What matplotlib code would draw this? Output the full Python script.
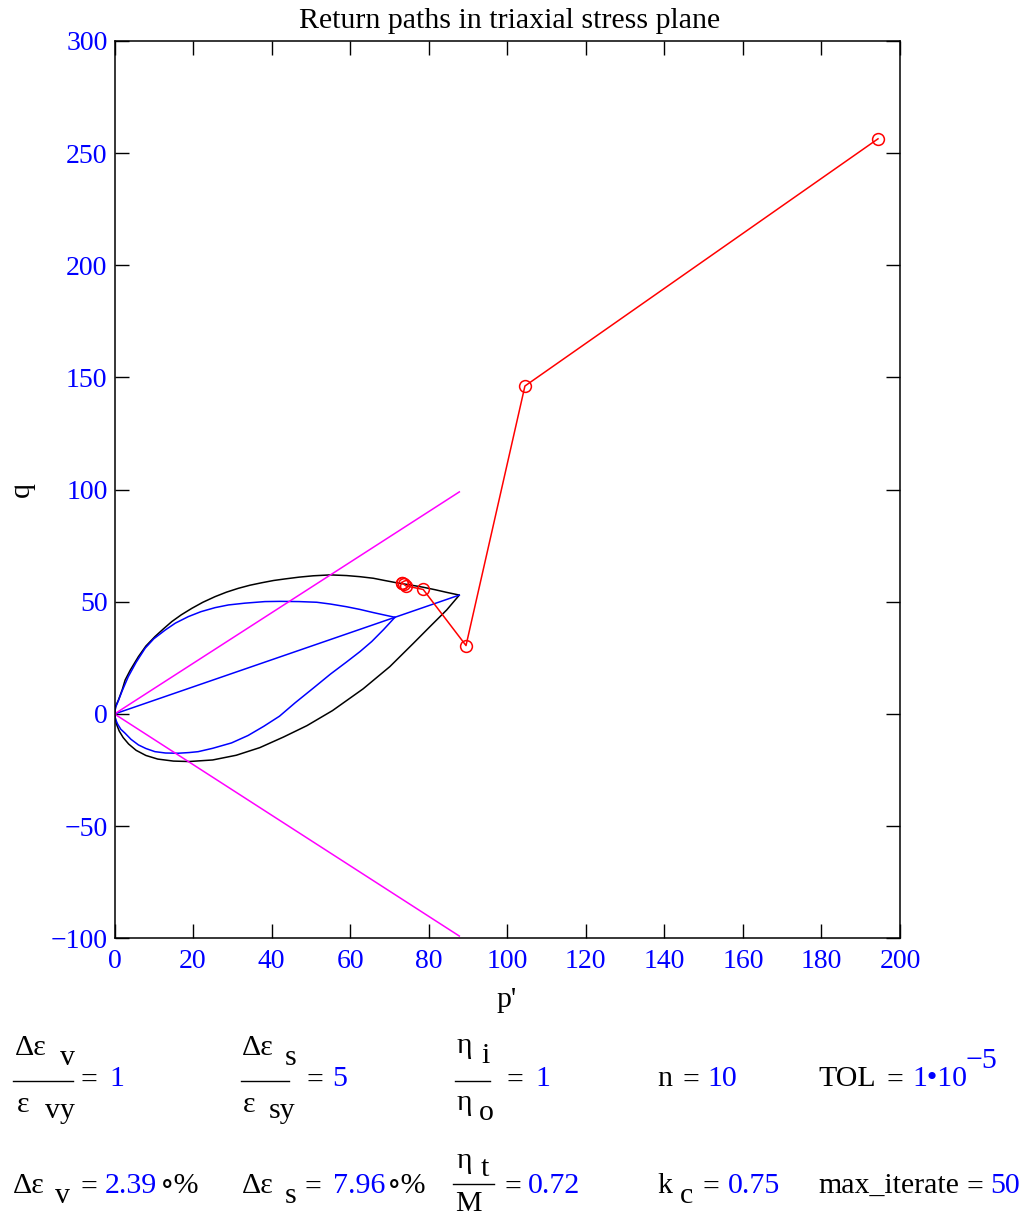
import matplotlib
matplotlib.use("Agg")
import matplotlib.pyplot as plt
from matplotlib.lines import Line2D

plt.rcParams['font.family'] = ['Liberation Serif', 'DejaVu Serif']

W, H = 1026, 1218

# ==================== DATA ====================
# yield surface (black): upper branch origin -> tip, lower branch tip -> origin
yield_p = [0, 0.3, 1.0, 2.0, 2.7, 4.0, 6.1, 8.0, 10.3, 12.5, 14.6, 17.0, 19.7, 22.5,
           25.6, 28.5, 31.5, 34.5, 37.5, 40.5, 43.4, 47.0, 50.6, 55.0, 59.1, 62.5,
           65.9, 68.8, 71.8, 75.0, 78.6, 81.6, 84.6, 87.8,
           84.6, 80.3, 76.1, 70.1, 63.3, 55.5, 49.0, 43.0, 37.0, 31.0, 25.0, 19.0,
           15.0, 11.0, 8.0, 5.5, 3.6, 2.2, 1.2, 0.5, 0]
yield_q = [0, 3.5, 6.2, 11.0, 15.1, 19.5, 25.6, 30.3, 34.5, 38.0, 41.2, 44.2, 47.1, 49.8,
           52.3, 54.3, 56.0, 57.4, 58.5, 59.5, 60.2, 61.0, 61.6, 62.0, 61.7, 61.2,
           60.5, 59.5, 58.5, 57.6, 56.5, 55.4, 54.2, 53.0,
           46.4, 38.9, 31.5, 21.1, 11.2, 1.5, -5.2, -10.3, -15.0, -18.4, -20.5, -21.2,
           -21.0, -20.1, -18.5, -16.2, -13.4, -10.5, -7.6, -4.5, 0]

# inner return paths (blue)
blue_up_p = [0, 0.3, 1.0, 2.0, 3.5, 5.5, 7.8, 10.0, 12.9, 15.5, 18.8, 22.0, 25.6, 29.0,
             33.2, 38.3, 42.1, 47.0, 51.5, 55.0, 59.1, 62.5, 65.9, 68.5, 71.4]
blue_up_q = [0, 3.0, 6.0, 10.5, 16.6, 23.0, 29.3, 33.5, 37.4, 40.5, 43.4, 45.6, 47.4, 48.6,
             49.4, 50.1, 50.2, 50.1, 49.8, 49.0, 47.8, 46.6, 45.2, 44.2, 43.1]
blue_lo_p = [0, 0.3, 0.8, 1.6, 2.7, 4.2, 6.1, 8.0, 10.3, 13.0, 16.2, 19.0, 21.3, 25.0,
             29.8, 34.0, 38.0, 42.0, 46.0, 50.6, 55.0, 59.1, 62.5, 65.5, 68.5, 71.4]
blue_lo_q = [0, -2.5, -4.5, -6.8, -8.6, -11.3, -13.8, -15.4, -16.8, -17.4, -17.5, -17.2,
             -16.8, -15.3, -12.9, -9.6, -5.5, -1.0, 5.0, 11.5, 17.8, 23.2, 27.8, 32.3,
             37.6, 43.1]
blue_mid_p = [0, 87.8]
blue_mid_q = [0, 53.0]

# critical state lines (magenta)
csl_p = [0, 87.8]
csl_up_q = [0, 99.0]
csl_lo_q = [0, -99.0]

# return path iterations (red)
ret_p = [194.4, 104.5, 89.5, 78.6, 74.2, 73.7, 73.3, 73.1]
ret_q = [256.4, 146.2, 30.5, 55.5, 57.1, 57.8, 58.3, 58.6]

# ==================== FIGURE ====================
fig = plt.figure(figsize=(W / 100, H / 100), dpi=100)
ax = fig.add_axes([114.5 / W, 1 - 938.3 / H, (900 - 114.5) / W, (938.3 - 41) / H])

ax.plot(yield_p, yield_q, color='black', lw=1.1)
ax.plot(blue_up_p, blue_up_q, color='blue', lw=1.1)
ax.plot(blue_lo_p, blue_lo_q, color='blue', lw=1.1)
ax.plot(blue_mid_p, blue_mid_q, color='blue', lw=1.1)
ax.plot(csl_p, csl_up_q, color='magenta', lw=1.1)
ax.plot(csl_p, csl_lo_q, color='magenta', lw=1.1)
ax.plot(ret_p, ret_q, color='red', lw=1.1, marker='o', mfc='none', mec='red',
        ms=8.5, mew=1.1)

ax.set_xlim(0, 200)
ax.set_ylim(-100, 300)
ax.set_xticks(range(0, 201, 20))
ax.set_yticks(range(-100, 301, 50))
ax.set_yticklabels([str(v).replace('-', '\u2212') for v in range(-100, 301, 50)])
ax.tick_params(direction='in', length=10, width=1.0, top=True, right=True,
               labelsize=20, labelcolor='blue')
ax.tick_params(axis='x', pad=8)
ax.tick_params(axis='y', pad=5)
for s in ax.spines.values():
    s.set_linewidth(1.1)

# ==================== TEXT ====================
FS = 21.5

def txt(x, y, s, color='black', size=FS, ha='left'):
    fig.text(x / W, 1 - y / H, s, color=color, fontsize=size, ha=ha, va='baseline')

def bar(x0, x1, y):
    fig.add_artist(Line2D([x0 / W, x1 / W], [1 - y / H, 1 - y / H],
                          color='black', lw=1.0, transform=fig.transFigure))

txt(510, 28, 'Return paths in triaxial stress plane', ha='center')
txt(507, 1007, "p'", ha='center')
fig.text(22 / W, 1 - 490 / H, 'q', fontsize=FS, rotation=90, ha='center', va='center')

# row 1
txt(15, 1055, '\u0394\u03b5'); txt(60, 1065, 'v'); bar(13, 73, 1081)
txt(17, 1112, '\u03b5'); txt(45, 1118, 'vy')
txt(80, 1088, '='); txt(109, 1086, '1', color='blue')

txt(242, 1055, '\u0394\u03b5'); txt(285, 1065, 's'); bar(241, 289, 1081)
txt(243, 1112, '\u03b5'); txt(269, 1118, 'sy')
txt(306, 1088, '='); txt(332, 1086, '5', color='blue')

txt(457, 1053, '\u03b7'); txt(481, 1063, 'i'); bar(455, 490, 1081)
txt(457, 1110, '\u03b7'); txt(479, 1120, 'o')
txt(506, 1088, '='); txt(535, 1086, '1', color='blue')

txt(657, 1086, 'n'); txt(682, 1088, '='); txt(707, 1086, '10', color='blue')
txt(818, 1086, 'TOL'); txt(887, 1088, '=')
txt(912, 1086, '1\u202210', color='blue'); txt(966, 1068, '\u22125', color='blue')

# row 2
txt(13, 1193, '\u0394\u03b5'); txt(55, 1203, 'v'); txt(80, 1195, '=')
txt(105, 1193, '2.39', color='blue'); txt(160, 1193, '\u2218%')

txt(242, 1193, '\u0394\u03b5'); txt(285, 1203, 's'); txt(305, 1195, '=')
txt(333, 1193, '7.96', color='blue'); txt(387, 1193, '\u2218%')

txt(457, 1168, '\u03b7'); txt(481, 1176, 't'); bar(453, 494, 1184)
txt(455, 1211, 'M'); txt(505, 1195, '='); txt(528, 1193, '0.72', color='blue')

txt(657, 1193, 'k'); txt(680, 1203, 'c'); txt(703, 1195, '=')
txt(728, 1193, '0.75', color='blue')
txt(818, 1193, 'max_iterate'); txt(966, 1195, '='); txt(990, 1193, '50', color='blue')

fig.savefig('out.png', dpi=100)
